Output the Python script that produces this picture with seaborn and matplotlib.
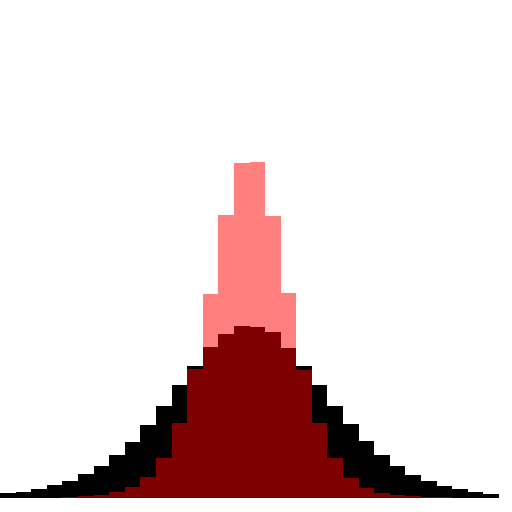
import matplotlib
matplotlib.use("Agg")
import matplotlib.pyplot as plt
import numpy as np
import pandas as pd
import seaborn as sns

# Shared bins: 32 bins of width 0.25 from -4 to 4
bin_width = 0.25
bin_range = (-4, 4)
bin_centers = np.arange(-4 + bin_width / 2, 4, bin_width)

# Wide distribution (black) - bin heights
wide_counts = [4.7, 6.5, 9, 12.7, 16.7, 23.7, 31.7, 43, 56.3, 72.7, 91.7, 113,
               131.7, 151.3, 164.3, 171.7, 171.3, 166, 150.3, 132.3, 113, 91.7,
               73.7, 56.7, 43.3, 32, 23.3, 16.7, 12, 8.7, 6, 4.5]

# Narrow distribution (red, semi-transparent)
narrow_counts = [0, 0, 0, 0, 1, 2.3, 3.3, 5.7, 11, 20.7, 40, 74.7,
                 129.3, 203.7, 283, 334.7, 336, 282, 204.7, 128.3, 74.7, 39.7,
                 20.3, 10, 4.7, 3.3, 2.3, 1.3, 0.7, 0.3, 0, 0]

df = pd.DataFrame({"x": bin_centers, "wide": wide_counts, "narrow": narrow_counts})

fig = plt.figure(figsize=(5.12, 5.12), dpi=100)
ax = fig.add_axes([0, 0, 1, 1])

sns.histplot(data=df, x="x", weights="wide", binwidth=bin_width, binrange=bin_range,
             color="black", alpha=1.0, linewidth=0, ax=ax)
sns.histplot(data=df, x="x", weights="narrow", binwidth=bin_width, binrange=bin_range,
             color="red", alpha=0.5, linewidth=0, ax=ax)

# map the bins onto the same pixel span as the reference
ax.set_xlim(-4, -4 + 8 * 512 / 499)
ax.set_ylim(-14, 498)
ax.axis("off")

fig.savefig("out.png", dpi=100)
